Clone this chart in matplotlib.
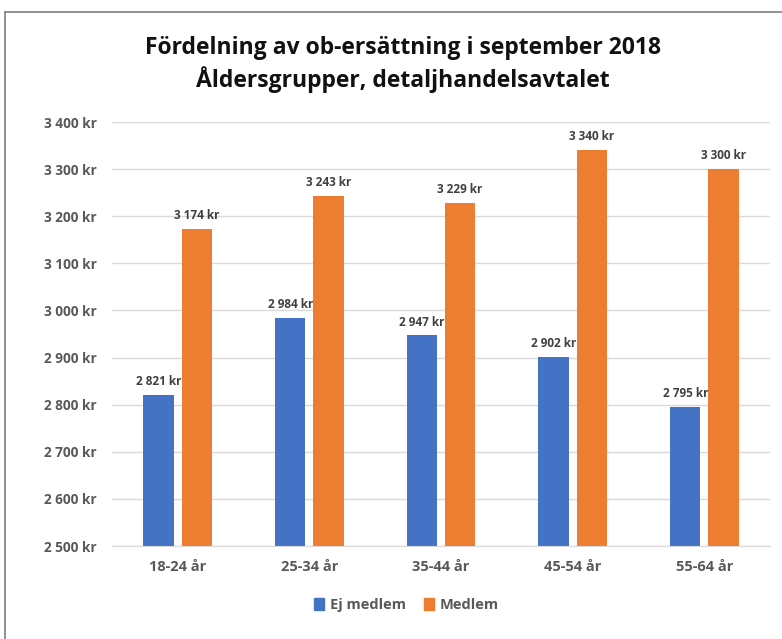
import numpy as np
import matplotlib
matplotlib.use("Agg")
import matplotlib.pyplot as plt
from matplotlib.lines import Line2D
from matplotlib.ticker import FuncFormatter

categories = ["18-24 år", "25-34 år", "35-44 år", "45-54 år", "55-64 år"]
ej_medlem = [2821, 2984, 2947, 2902, 2795]
medlem = [3174, 3243, 3229, 3340, 3300]
series_names = ["Ej medlem", "Medlem"]

blue = "#4472C4"
orange = "#ED7D31"
text_col = "#595959"

plt.rcParams["font.family"] = ["Open Sans", "DejaVu Sans"]


def kr(v):
    s = f"{int(round(v)):,}".replace(",", " ")
    return f"{s} kr"


fig = plt.figure(figsize=(7.82, 6.39), dpi=100)
ax = fig.add_axes([0.143, 0.1455, 0.842, 0.6635])

x = np.arange(len(categories))
w = 0.23
gap = 0.06
b1 = ax.bar(x - (w + gap) / 2, ej_medlem, w, color=blue, label=series_names[0], zorder=2)
b2 = ax.bar(x + (w + gap) / 2, medlem, w, color=orange, label=series_names[1], zorder=2)

for bars in (b1, b2):
    for r in bars:
        h = r.get_height()
        ax.annotate(kr(h), (r.get_x() + r.get_width() / 2, h), xytext=(0, 5),
                    textcoords="offset points", ha="center", va="bottom",
                    fontsize=8.5, fontweight="bold", color="#404040")

ax.set_ylim(2500, 3400)
ax.set_yticks(np.arange(2500, 3401, 100))
ax.yaxis.set_major_formatter(FuncFormatter(lambda v, p: kr(v)))
ax.set_xlim(-0.5, len(categories) - 0.5)
ax.set_xticks(x)
ax.set_xticklabels(categories)
ax.grid(axis="y", color="#D9D9D9", lw=1, zorder=0)
for s in ("top", "right", "left"):
    ax.spines[s].set_visible(False)
ax.spines["bottom"].set_color("#D9D9D9")
ax.tick_params(axis="both", length=0, colors=text_col)
ax.tick_params(axis="y", pad=11, labelsize=9.8)
ax.tick_params(axis="x", pad=10, labelsize=10.5)
for t in ax.get_yticklabels() + ax.get_xticklabels():
    t.set_fontweight("bold")

fig.text(0.515, 0.899, "Fördelning av ob-ersättning i september 2018\nÅldersgrupper, detaljhandelsavtalet",
         ha="center", va="center", fontsize=16.5, fontweight="bold", color="#111111", linespacing=1.3)

handles = [plt.Rectangle((0, 0), 1, 1, color=blue), plt.Rectangle((0, 0), 1, 1, color=orange)]
fig.legend(handles, series_names, loc="center", bbox_to_anchor=(0.52, 0.053), ncol=2, frameon=False,
           handlelength=0.7, handleheight=0.9, handletextpad=0.4, columnspacing=1.2,
           prop={"weight": "bold", "size": 10.5}, labelcolor=text_col)

# outer frame (top and left visible)
fig.add_artist(Line2D([0.0064, 1.0], [0.981, 0.981], color="#7f7f7f", lw=1.2, transform=fig.transFigure))
fig.add_artist(Line2D([0.0064, 0.0064], [0.0, 0.981], color="#7f7f7f", lw=1.2, transform=fig.transFigure))

fig.savefig("out.png", dpi=100)
